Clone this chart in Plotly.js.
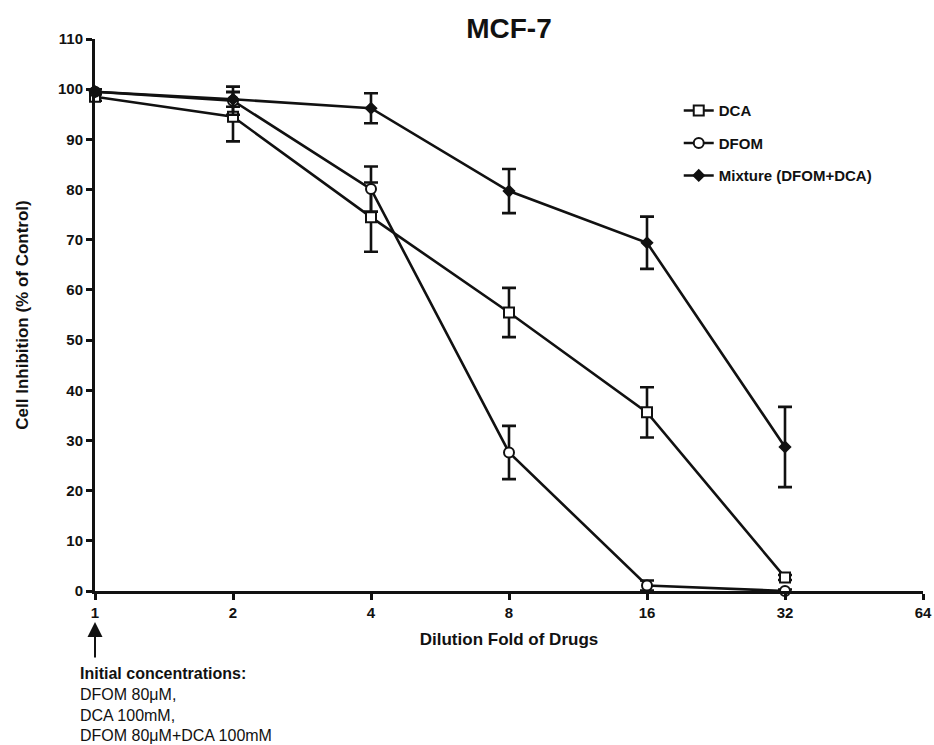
<!DOCTYPE html>
<html><head><meta charset="utf-8">
<script src="https://cdn.plot.ly/plotly-3.0.1.min.js"></script>
<style>body{margin:0;background:#fff}#c{width:934px;height:745px}</style>
</head><body><div id="c"></div>
<script>
const dilution = [1, 2, 4, 8, 16, 32];
const dcaMean = [98.5, 94.5, 74.5, 55.5, 35.6, 2.7];
const dcaErr  = [0.8, 4.9, 6.9, 4.9, 5.0, 0.5];
const dfomMean = [99.5, 97.7, 80.1, 27.6, 1.1, 0.0];
const dfomErr  = [0.5, 2.8, 4.5, 5.3, 1.0, 0.3];
const mixMean = [99.5, 98.0, 96.2, 79.7, 69.4, 28.7];
const mixErr  = [0.5, 1.5, 3.0, 4.4, 5.2, 8.0];
const xTicks = [1, 2, 4, 8, 16, 32, 64];
const yTicks = [0,10,20,30,40,50,60,70,80,90,100,110];

function tr(name, y, e, sym, fill, size, group) {
  return {
    x: dilution, y: y, name: name, type: 'scatter', mode: 'lines+markers',
    legendgroup: group, cliponaxis: false,
    line: {color: '#111', width: 2.6},
    marker: {symbol: sym, size: size, color: fill, line: {color: '#111', width: 2}},
    error_y: {type: 'data', array: e, visible: true, color: '#111', thickness: 2.6, width: 7}
  };
}
const data = [
  tr('DCA', dcaMean, dcaErr, 'square', '#fff', 10, 'a'),
  tr('DFOM', dfomMean, dfomErr, 'circle', '#fff', 10, 'b'),
  tr('Mixture (DFOM+DCA)', mixMean, mixErr, 'diamond', '#111', 8, 'c')
];

const font = 'Liberation Sans, Arial, sans-serif';
const layout = {
  width: 934, height: 745,
  margin: {l: 95, r: 11, t: 39, b: 154},
  paper_bgcolor: '#fff', plot_bgcolor: '#fff',
  font: {family: font, color: '#111'},
  title: {text: '<b>MCF-7</b>', x: 0.5, xref: 'paper', y: 0.962, yanchor: 'middle',
          font: {size: 28, family: font, color: '#111'}},
  xaxis: {
    type: 'log', range: [0, Math.log10(64)],
    tickvals: xTicks, ticktext: xTicks.map(String),
    showgrid: false, zeroline: false, showline: true, linecolor: '#111', linewidth: 3,
    ticks: 'outside', ticklen: 6, tickwidth: 3, tickcolor: '#111',
    tickfont: {size: 15, family: font, color: '#111', weight: 'bold'},
    title: {text: '<b>Dilution Fold of Drugs</b>', standoff: 14,
            font: {size: 17, family: font, color: '#111'}}
  },
  yaxis: {
    range: [0, 110], tickvals: yTicks,
    showgrid: false, zeroline: false, showline: true, linecolor: '#111', linewidth: 3,
    ticks: 'outside', ticklen: 6, tickwidth: 3, tickcolor: '#111',
    tickfont: {size: 15, family: font, color: '#111', weight: 'bold'},
    title: {text: '<b>Cell Inhibition (% of Control)</b>', standoff: 26,
            font: {size: 17, family: font, color: '#111'}}
  },
  showlegend: true,
  legend: {x: 0.705, y: 0.9, xanchor: 'left', yanchor: 'top',
           traceorder: 'grouped', tracegroupgap: 10, bgcolor: 'rgba(0,0,0,0)',
           font: {size: 15, family: font, color: '#111', weight: 'bold'}},
  annotations: [
    {xref: 'paper', yref: 'paper', x: 0, y: -0.056, text: '', showarrow: true,
     ax: 0, ay: 37, arrowhead: 2, arrowsize: 1.5, arrowwidth: 2, arrowcolor: '#111'},
    {xref: 'paper', yref: 'paper', x: -0.021, y: -0.13, xanchor: 'left', yanchor: 'top', align: 'left',
     showarrow: false,
     text: '<b>Initial concentrations:</b><br>DFOM 80\u03bcM,<br>DCA 100mM,<br>DFOM 80\u03bcM+DCA 100mM',
     font: {size: 16, family: font, color: '#111'}}
  ]
};
Plotly.newPlot('c', data, layout, {displayModeBar: false, staticPlot: true});
</script></body></html>
